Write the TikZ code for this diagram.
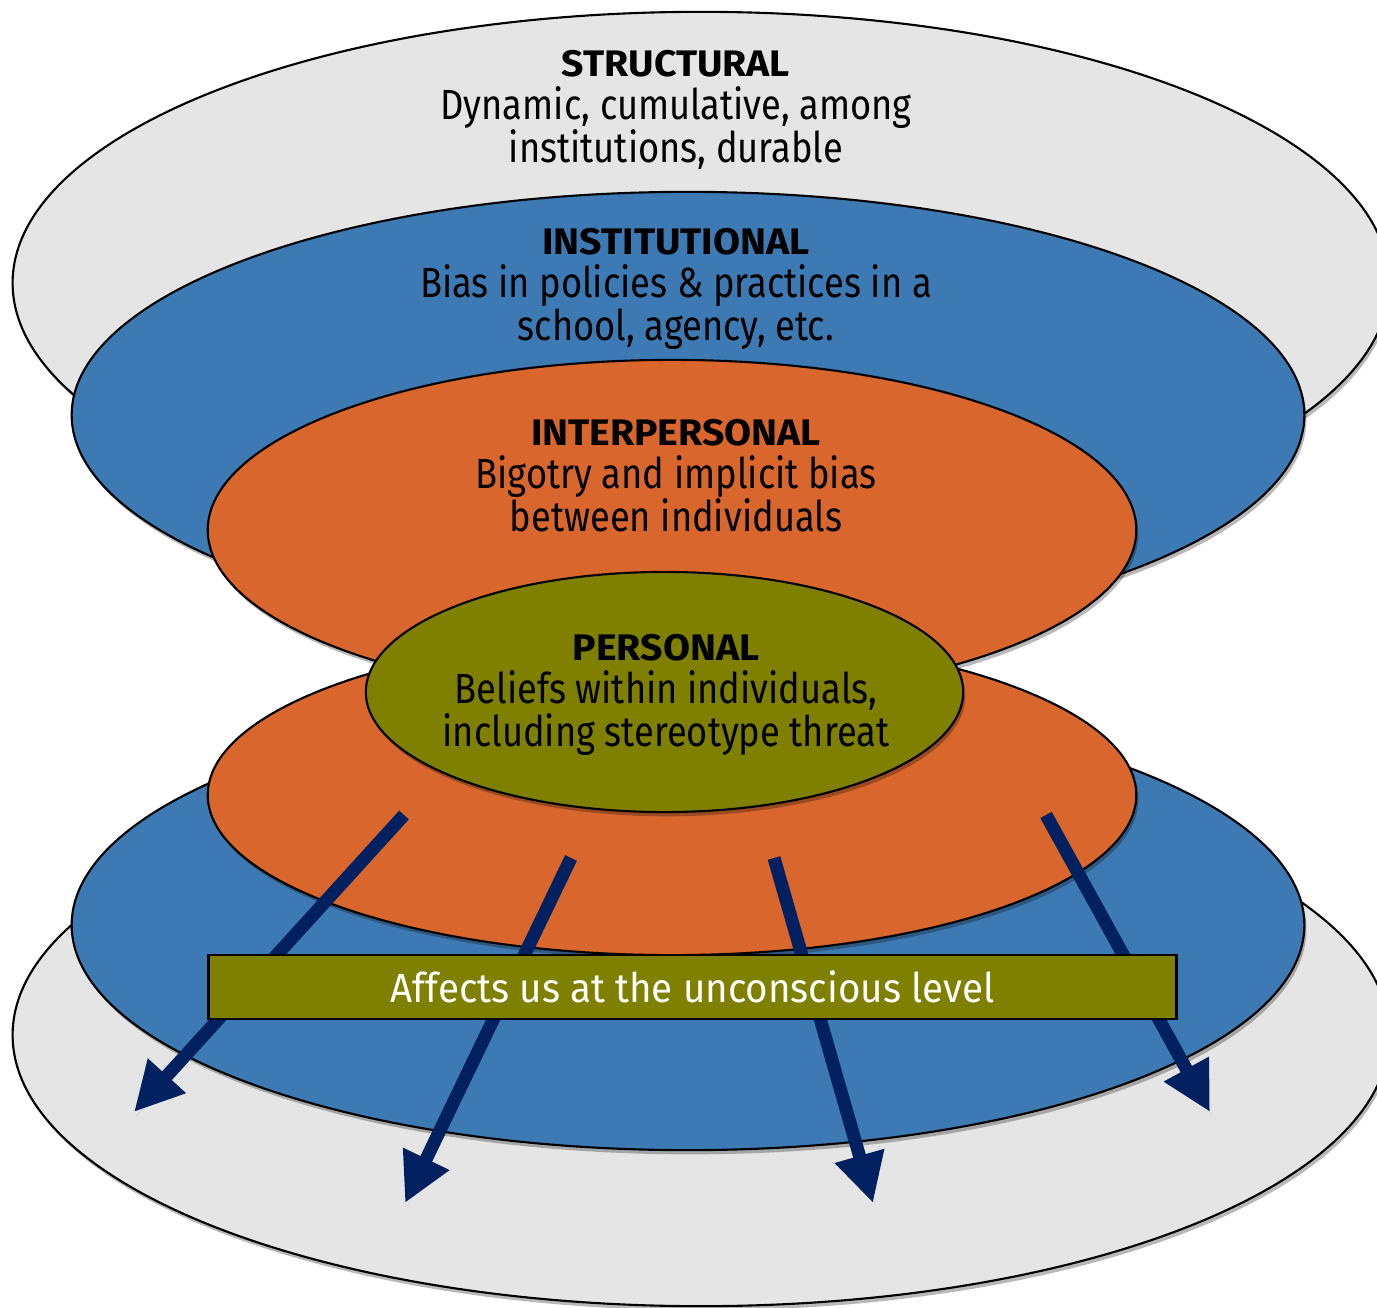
\documentclass[tikz,border=0pt]{standalone}
\usepackage{fontspec}
\setmainfont{Fira Sans}
\newfontfamily\headfamily[FakeStretch=1.06]{Fira Sans}
\newfontfamily\bodyfamily[FakeStretch=0.86]{Fira Sans}
\newfontfamily\notefamily[FakeStretch=0.945]{Fira Sans}
\usetikzlibrary{arrows.meta,shadows}

\definecolor{layergray}{HTML}{E5E5E5}
\definecolor{layerblue}{HTML}{3D7AB4}
\definecolor{layerorange}{HTML}{D8662D}
\definecolor{layerolive}{HTML}{7F7F00}
\definecolor{arrownavy}{HTML}{002060}

\newcommand\layerhead[1]{{\headfamily\bfseries\fontsize{10.5pt}{12.2pt}\selectfont #1}}

\tikzset{
  layer/.style={draw=black, line width=0.6pt,
    drop shadow={shadow xshift=0.6pt, shadow yshift=-1.2pt, opacity=0.28, fill=black}},
  layertext/.style={align=center, inner sep=0pt, anchor=north, text=black,
    font=\bodyfamily\fontsize{12pt}{12.2pt}\selectfont},
  push/.style={draw=arrownavy, line width=0.13cm,
    -{Triangle[width=0.48cm,length=0.49cm]},
    drop shadow={shadow xshift=0.6pt, shadow yshift=-1.2pt, opacity=0.25, fill=black}},
  banner/.style={draw=black, line width=0.8pt, fill=layerolive, text=white,
    minimum width=9.67cm, minimum height=0.64cm, inner sep=0pt,
    font=\notefamily\fontsize{11.6pt}{12pt}\selectfont}
}

\begin{document}
\begin{tikzpicture}[x=0.01cm, y=-0.01cm]
  \useasboundingbox (0,0) rectangle (1377,1307);
  \clip (0,0) rectangle (1377,1307);

  % upper half of the nested layers
  \path[layer, fill=layergray]   (701,283) ellipse [x radius=6.88cm, y radius=2.71cm];
  \path[layer, fill=layerblue]   (688,415) ellipse [x radius=6.16cm, y radius=2.23cm];
  \path[layer, fill=layerorange] (672,530) ellipse [x radius=4.64cm, y radius=1.70cm];

  % lower half of the nested layers
  \path[layer, fill=layergray]   (701,1035) ellipse [x radius=6.88cm, y radius=2.71cm];
  \path[layer, fill=layerblue]   (688,925) ellipse [x radius=6.16cm, y radius=2.25cm];
  \path[layer, fill=layerorange] (672,795) ellipse [x radius=4.64cm, y radius=1.60cm];

  % core layer
  \path[layer, fill=layerolive]  (664.5,692) ellipse [x radius=2.985cm, y radius=1.20cm];

  % layer labels
  \node[layertext] (structural) at (676,50)
    {\layerhead{STRUCTURAL}\\Dynamic, cumulative, among\\institutions, durable};
  \node[layertext] (institutional) at (676,228)
    {\layerhead{INSTITUTIONAL}\\Bias in policies \& practices in a\\school, agency, etc.};
  \node[layertext] (interpersonal) at (676,419)
    {\layerhead{INTERPERSONAL}\\Bigotry and implicit bias\\between individuals};
  \node[layertext] (personal) at (666,634)
    {\layerhead{PERSONAL}\\Beliefs within individuals,\\including stereotype threat};

  % arrow ends
  \coordinate (p1) at (404,815);  \coordinate (q1) at (134,1112);
  \coordinate (p2) at (571,858);  \coordinate (q2) at (405,1203);
  \coordinate (p3) at (774,858);  \coordinate (q3) at (873,1203);
  \coordinate (p4) at (1046,815); \coordinate (q4) at (1210,1112);

  \draw[push] (p1) -- (q1);
  \draw[push] (p2) -- (q2);
  \draw[push] (p3) -- (q3);
  \draw[push] (p4) -- (q4);

  % banner across the lower layers
  \node[banner] (unconscious) at (692.5,987) {Affects us at the unconscious level};
\end{tikzpicture}
\end{document}
